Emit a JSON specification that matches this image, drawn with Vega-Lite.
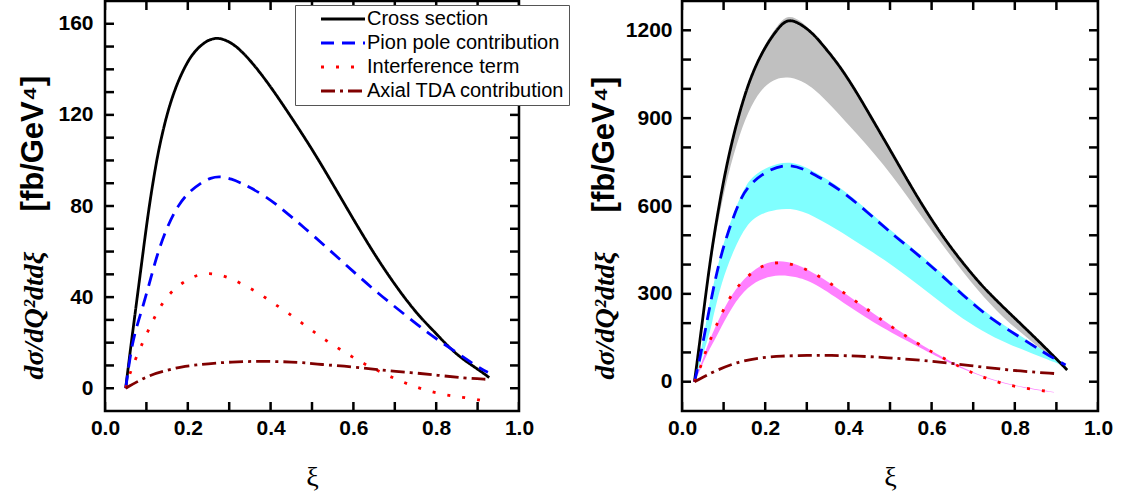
{
  "$schema": "https://vega.github.io/schema/vega-lite/v6.json",
  "background": "white",
  "padding": {"left": 15, "top": -1, "right": 5, "bottom": 5},
  "config": {"view": {"stroke": "black", "strokeWidth": 2.5, "fill": null}},
  "datasets": {
    "xt": [{"t":0},{"t":0.1},{"t":0.2},{"t":0.3},{"t":0.4},{"t":0.5},{"t":0.6},{"t":0.7},{"t":0.8},{"t":0.9},{"t":1}],
    "ytl": [{"t":0},{"t":10},{"t":20},{"t":30},{"t":40},{"t":50},{"t":60},{"t":70},{"t":80},{"t":90},{"t":100},{"t":110},{"t":120},{"t":130},{"t":140},{"t":150},{"t":160}],
    "ytr": [{"t":0},{"t":100},{"t":200},{"t":300},{"t":400},{"t":500},{"t":600},{"t":700},{"t":800},{"t":900},{"t":1000},{"t":1100},{"t":1200}],
    "left": [
      {"s":"Cross section","x":0.05,"y":0},{"s":"Cross section","x":0.06,"y":15},{"s":"Cross section","x":0.07,"y":29},{"s":"Cross section","x":0.08,"y":43},{"s":"Cross section","x":0.09,"y":57},{"s":"Cross section","x":0.105,"y":78},{"s":"Cross section","x":0.12,"y":95},{"s":"Cross section","x":0.13,"y":105},{"s":"Cross section","x":0.145,"y":117},{"s":"Cross section","x":0.16,"y":126.5},{"s":"Cross section","x":0.175,"y":134},{"s":"Cross section","x":0.19,"y":140},{"s":"Cross section","x":0.205,"y":145},{"s":"Cross section","x":0.22,"y":148.5},{"s":"Cross section","x":0.235,"y":151},{"s":"Cross section","x":0.25,"y":152.9},{"s":"Cross section","x":0.27,"y":153.9},{"s":"Cross section","x":0.29,"y":153},{"s":"Cross section","x":0.31,"y":151},{"s":"Cross section","x":0.33,"y":148},{"s":"Cross section","x":0.36,"y":142},{"s":"Cross section","x":0.4,"y":132.5},{"s":"Cross section","x":0.45,"y":119},{"s":"Cross section","x":0.5,"y":105},{"s":"Cross section","x":0.54,"y":92.8},{"s":"Cross section","x":0.578,"y":81},{"s":"Cross section","x":0.62,"y":68},{"s":"Cross section","x":0.659,"y":56.5},{"s":"Cross section","x":0.7,"y":45.5},{"s":"Cross section","x":0.739,"y":36},{"s":"Cross section","x":0.77,"y":29.5},{"s":"Cross section","x":0.8,"y":24},{"s":"Cross section","x":0.82,"y":20},{"s":"Cross section","x":0.85,"y":14.8},{"s":"Cross section","x":0.876,"y":11.3},{"s":"Cross section","x":0.905,"y":7.8},{"s":"Cross section","x":0.928,"y":4.7},
      {"s":"Pion pole contribution","x":0.05,"y":0},{"s":"Pion pole contribution","x":0.064,"y":18.5},{"s":"Pion pole contribution","x":0.078,"y":28},{"s":"Pion pole contribution","x":0.0926,"y":36.5},{"s":"Pion pole contribution","x":0.111,"y":48.5},{"s":"Pion pole contribution","x":0.125,"y":58},{"s":"Pion pole contribution","x":0.147,"y":69.7},{"s":"Pion pole contribution","x":0.177,"y":80.7},{"s":"Pion pole contribution","x":0.205,"y":86.5},{"s":"Pion pole contribution","x":0.232,"y":90.2},{"s":"Pion pole contribution","x":0.255,"y":92.4},{"s":"Pion pole contribution","x":0.278,"y":93.1},{"s":"Pion pole contribution","x":0.306,"y":91.9},{"s":"Pion pole contribution","x":0.33,"y":90},{"s":"Pion pole contribution","x":0.352,"y":88},{"s":"Pion pole contribution","x":0.385,"y":84.5},{"s":"Pion pole contribution","x":0.414,"y":80.7},{"s":"Pion pole contribution","x":0.445,"y":76},{"s":"Pion pole contribution","x":0.477,"y":71.2},{"s":"Pion pole contribution","x":0.538,"y":61.4},{"s":"Pion pole contribution","x":0.598,"y":51.5},{"s":"Pion pole contribution","x":0.659,"y":41.7},{"s":"Pion pole contribution","x":0.723,"y":32.5},{"s":"Pion pole contribution","x":0.783,"y":23.7},{"s":"Pion pole contribution","x":0.844,"y":16.4},{"s":"Pion pole contribution","x":0.908,"y":8.3},{"s":"Pion pole contribution","x":0.925,"y":7},
      {"s":"Interference term","x":0.05,"y":0},{"s":"Interference term","x":0.0604,"y":7.2},{"s":"Interference term","x":0.0926,"y":20.8},{"s":"Interference term","x":0.1087,"y":27},{"s":"Interference term","x":0.127,"y":33.9},{"s":"Interference term","x":0.151,"y":40.8},{"s":"Interference term","x":0.187,"y":46.6},{"s":"Interference term","x":0.224,"y":50},{"s":"Interference term","x":0.259,"y":50.6},{"s":"Interference term","x":0.296,"y":48.9},{"s":"Interference term","x":0.333,"y":45.6},{"s":"Interference term","x":0.37,"y":42},{"s":"Interference term","x":0.407,"y":37.3},{"s":"Interference term","x":0.444,"y":32.8},{"s":"Interference term","x":0.481,"y":27.9},{"s":"Interference term","x":0.518,"y":22.9},{"s":"Interference term","x":0.554,"y":18.6},{"s":"Interference term","x":0.593,"y":14.2},{"s":"Interference term","x":0.628,"y":10.5},{"s":"Interference term","x":0.665,"y":7.2},{"s":"Interference term","x":0.703,"y":3.9},{"s":"Interference term","x":0.739,"y":1.3},{"s":"Interference term","x":0.775,"y":-0.9},{"s":"Interference term","x":0.813,"y":-2.6},{"s":"Interference term","x":0.85,"y":-3.7},{"s":"Interference term","x":0.888,"y":-4.5},{"s":"Interference term","x":0.924,"y":-6},
      {"s":"Axial TDA contribution","x":0.05,"y":0},{"s":"Axial TDA contribution","x":0.105,"y":5.7},{"s":"Axial TDA contribution","x":0.145,"y":7.6},{"s":"Axial TDA contribution","x":0.185,"y":9.5},{"s":"Axial TDA contribution","x":0.221,"y":10.2},{"s":"Axial TDA contribution","x":0.262,"y":11},{"s":"Axial TDA contribution","x":0.306,"y":11.5},{"s":"Axial TDA contribution","x":0.354,"y":11.8},{"s":"Axial TDA contribution","x":0.403,"y":11.8},{"s":"Axial TDA contribution","x":0.451,"y":11.5},{"s":"Axial TDA contribution","x":0.491,"y":11.1},{"s":"Axial TDA contribution","x":0.514,"y":10.5},{"s":"Axial TDA contribution","x":0.602,"y":9.4},{"s":"Axial TDA contribution","x":0.667,"y":7.9},{"s":"Axial TDA contribution","x":0.739,"y":6.9},{"s":"Axial TDA contribution","x":0.804,"y":5.7},{"s":"Axial TDA contribution","x":0.868,"y":4.4},{"s":"Axial TDA contribution","x":0.924,"y":3.9}
    ],
    "right": [
      {"s":"Cross section","x":0.03,"y":0},{"s":"Cross section","x":0.0457,"y":168},{"s":"Cross section","x":0.0657,"y":396},{"s":"Cross section","x":0.0858,"y":578},{"s":"Cross section","x":0.1098,"y":761},{"s":"Cross section","x":0.138,"y":921},{"s":"Cross section","x":0.166,"y":1046},{"s":"Cross section","x":0.198,"y":1140},{"s":"Cross section","x":0.226,"y":1198},{"s":"Cross section","x":0.2526,"y":1242},{"s":"Cross section","x":0.286,"y":1222},{"s":"Cross section","x":0.318,"y":1185},{"s":"Cross section","x":0.341,"y":1145},{"s":"Cross section","x":0.37,"y":1095},{"s":"Cross section","x":0.4,"y":1033},{"s":"Cross section","x":0.429,"y":966},{"s":"Cross section","x":0.46,"y":890},{"s":"Cross section","x":0.497,"y":800},{"s":"Cross section","x":0.537,"y":700},{"s":"Cross section","x":0.585,"y":585},{"s":"Cross section","x":0.6415,"y":465},{"s":"Cross section","x":0.7056,"y":352},{"s":"Cross section","x":0.74,"y":300},{"s":"Cross section","x":0.78,"y":244},{"s":"Cross section","x":0.822,"y":187},{"s":"Cross section","x":0.87,"y":121},{"s":"Cross section","x":0.926,"y":40},
      {"s":"Pion pole contribution","x":0.03,"y":0},{"s":"Pion pole contribution","x":0.043,"y":76},{"s":"Pion pole contribution","x":0.0698,"y":282},{"s":"Pion pole contribution","x":0.0938,"y":441},{"s":"Pion pole contribution","x":0.13,"y":590},{"s":"Pion pole contribution","x":0.154,"y":664},{"s":"Pion pole contribution","x":0.2045,"y":723},{"s":"Pion pole contribution","x":0.2606,"y":748},{"s":"Pion pole contribution","x":0.3183,"y":709},{"s":"Pion pole contribution","x":0.385,"y":652},{"s":"Pion pole contribution","x":0.447,"y":577},{"s":"Pion pole contribution","x":0.495,"y":518},{"s":"Pion pole contribution","x":0.509,"y":500},{"s":"Pion pole contribution","x":0.569,"y":432},{"s":"Pion pole contribution","x":0.63,"y":356},{"s":"Pion pole contribution","x":0.69,"y":276},{"s":"Pion pole contribution","x":0.75,"y":207},{"s":"Pion pole contribution","x":0.814,"y":151},{"s":"Pion pole contribution","x":0.87,"y":99},{"s":"Pion pole contribution","x":0.922,"y":57},
      {"s":"Interference term","x":0.03,"y":0},{"s":"Interference term","x":0.0457,"y":53},{"s":"Interference term","x":0.0577,"y":110},{"s":"Interference term","x":0.0882,"y":211},{"s":"Interference term","x":0.106,"y":265},{"s":"Interference term","x":0.1275,"y":316},{"s":"Interference term","x":0.162,"y":367},{"s":"Interference term","x":0.1965,"y":400},{"s":"Interference term","x":0.234,"y":409},{"s":"Interference term","x":0.27,"y":400},{"s":"Interference term","x":0.3063,"y":379},{"s":"Interference term","x":0.345,"y":347},{"s":"Interference term","x":0.381,"y":312},{"s":"Interference term","x":0.416,"y":276},{"s":"Interference term","x":0.453,"y":240},{"s":"Interference term","x":0.488,"y":202},{"s":"Interference term","x":0.525,"y":168},{"s":"Interference term","x":0.564,"y":133},{"s":"Interference term","x":0.601,"y":101},{"s":"Interference term","x":0.638,"y":74},{"s":"Interference term","x":0.676,"y":44},{"s":"Interference term","x":0.711,"y":22},{"s":"Interference term","x":0.748,"y":4},{"s":"Interference term","x":0.784,"y":-12},{"s":"Interference term","x":0.822,"y":-21},{"s":"Interference term","x":0.858,"y":-29},{"s":"Interference term","x":0.894,"y":-36},
      {"s":"Axial TDA contribution","x":0.03,"y":0},{"s":"Axial TDA contribution","x":0.0858,"y":42},{"s":"Axial TDA contribution","x":0.142,"y":71},{"s":"Axial TDA contribution","x":0.19,"y":82},{"s":"Axial TDA contribution","x":0.238,"y":88},{"s":"Axial TDA contribution","x":0.302,"y":90},{"s":"Axial TDA contribution","x":0.358,"y":90},{"s":"Axial TDA contribution","x":0.423,"y":88},{"s":"Axial TDA contribution","x":0.493,"y":82},{"s":"Axial TDA contribution","x":0.573,"y":74},{"s":"Axial TDA contribution","x":0.653,"y":62},{"s":"Axial TDA contribution","x":0.734,"y":48},{"s":"Axial TDA contribution","x":0.814,"y":36},{"s":"Axial TDA contribution","x":0.894,"y":28},{"s":"Axial TDA contribution","x":0.906,"y":27}
    ],
    "bands": [
      {"b":"Cross section","x":0.03,"lo":0,"hi":0},{"b":"Cross section","x":0.0457,"lo":150,"hi":172},{"b":"Cross section","x":0.0657,"lo":372,"hi":400},{"b":"Cross section","x":0.0858,"lo":545,"hi":582},{"b":"Cross section","x":0.1098,"lo":705,"hi":767},{"b":"Cross section","x":0.138,"lo":845,"hi":928},{"b":"Cross section","x":0.166,"lo":945,"hi":1053},{"b":"Cross section","x":0.198,"lo":1012,"hi":1150},{"b":"Cross section","x":0.226,"lo":1035,"hi":1210},{"b":"Cross section","x":0.2526,"lo":1042,"hi":1256},{"b":"Cross section","x":0.286,"lo":1030,"hi":1234},{"b":"Cross section","x":0.3248,"lo":995,"hi":1178},{"b":"Cross section","x":0.3986,"lo":880,"hi":1036},{"b":"Cross section","x":0.485,"lo":745,"hi":830},{"b":"Cross section","x":0.565,"lo":585,"hi":634},{"b":"Cross section","x":0.6455,"lo":430,"hi":458},{"b":"Cross section","x":0.7097,"lo":312,"hi":346},{"b":"Cross section","x":0.774,"lo":215,"hi":253},{"b":"Cross section","x":0.822,"lo":160,"hi":187},{"b":"Cross section","x":0.87,"lo":100,"hi":121},{"b":"Cross section","x":0.926,"lo":38,"hi":40},
      {"b":"Pion pole contribution","x":0.03,"lo":0,"hi":0},{"b":"Pion pole contribution","x":0.043,"lo":60,"hi":82},{"b":"Pion pole contribution","x":0.063,"lo":150,"hi":245},{"b":"Pion pole contribution","x":0.0698,"lo":185,"hi":292},{"b":"Pion pole contribution","x":0.094,"lo":340,"hi":452},{"b":"Pion pole contribution","x":0.13,"lo":470,"hi":600},{"b":"Pion pole contribution","x":0.154,"lo":530,"hi":674},{"b":"Pion pole contribution","x":0.174,"lo":560,"hi":705},{"b":"Pion pole contribution","x":0.2045,"lo":582,"hi":734},{"b":"Pion pole contribution","x":0.2606,"lo":597,"hi":758},{"b":"Pion pole contribution","x":0.318,"lo":566,"hi":718},{"b":"Pion pole contribution","x":0.385,"lo":510,"hi":660},{"b":"Pion pole contribution","x":0.447,"lo":452,"hi":585},{"b":"Pion pole contribution","x":0.509,"lo":395,"hi":508},{"b":"Pion pole contribution","x":0.569,"lo":330,"hi":440},{"b":"Pion pole contribution","x":0.63,"lo":262,"hi":364},{"b":"Pion pole contribution","x":0.69,"lo":200,"hi":284},{"b":"Pion pole contribution","x":0.75,"lo":150,"hi":215},{"b":"Pion pole contribution","x":0.814,"lo":112,"hi":157},{"b":"Pion pole contribution","x":0.87,"lo":80,"hi":104},{"b":"Pion pole contribution","x":0.922,"lo":52,"hi":60},
      {"b":"Interference term","x":0.03,"lo":0,"hi":0},{"b":"Interference term","x":0.0457,"lo":45,"hi":58},{"b":"Interference term","x":0.0577,"lo":90,"hi":114},{"b":"Interference term","x":0.087,"lo":165,"hi":210},{"b":"Interference term","x":0.119,"lo":255,"hi":300},{"b":"Interference term","x":0.159,"lo":327,"hi":368},{"b":"Interference term","x":0.1965,"lo":355,"hi":405},{"b":"Interference term","x":0.234,"lo":365,"hi":414},{"b":"Interference term","x":0.27,"lo":360,"hi":405},{"b":"Interference term","x":0.318,"lo":339,"hi":372},{"b":"Interference term","x":0.398,"lo":259,"hi":296},{"b":"Interference term","x":0.479,"lo":185,"hi":213},{"b":"Interference term","x":0.573,"lo":115,"hi":128},{"b":"Interference term","x":0.621,"lo":80,"hi":88},{"b":"Interference term","x":0.676,"lo":42,"hi":46},{"b":"Interference term","x":0.748,"lo":3,"hi":5},{"b":"Interference term","x":0.822,"lo":-22,"hi":-20},{"b":"Interference term","x":0.894,"lo":-37,"hi":-35}
    ]
  },
  "hconcat": [
    {
      "width": 414,
      "height": 410,
      "layer": [
        {
          "data": {"name": "left"},
          "mark": {"type": "line", "strokeWidth": 2.8, "interpolate": "basis"},
          "encoding": {
            "x": {"field": "x", "type": "quantitative", "scale": {"domain": [0, 1], "nice": false, "zero": false},
              "axis": {"orient": "bottom", "values": [0,0.2,0.4,0.6,0.8,1], "format": ".1f", "domain": false, "ticks": false, "grid": false, "labelFont": "Liberation Sans", "labelFontWeight": "bold", "labelFontSize": 21, "labelColor": "black", "labelPadding": 6, "labelFlush": false, "labelOverlap": false, "labelBound": false, "title": "ξ", "titleFont": "Liberation Serif", "titleFontWeight": "normal", "titleFontSize": 28, "titleColor": "black", "titleY": 66, "titleBaseline": "middle"}},
            "y": {"field": "y", "type": "quantitative", "scale": {"domain": [-10, 170], "nice": false, "zero": false},
              "axis": {"orient": "left", "values": [0,40,80,120,160], "format": "d", "domain": false, "ticks": false, "grid": false, "labelFont": "Liberation Sans", "labelFontWeight": "bold", "labelFontSize": 21, "labelColor": "black", "labelPadding": 12, "labelFlush": false, "labelOverlap": false, "labelBound": false, "title": "[fb/GeV⁴]", "titleFont": "Liberation Sans", "titleFontWeight": "bold", "titleFontSize": 31, "titleColor": "black", "titleAngle": 270, "titleX": -72, "titleY": 142, "titleAlign": "center", "titleBaseline": "middle"}},
            "color": {"field": "s", "type": "nominal",
              "scale": {"domain": ["Cross section", "Pion pole contribution", "Interference term", "Axial TDA contribution"], "range": ["#000000", "#0000ff", "#ff0000", "#800000"]},
              "legend": {"orient": "none", "legendX": 190, "legendY": 4, "title": null, "symbolType": "M -4 0 L 4 0", "symbolSize": 121, "symbolStrokeWidth": 2.8, "symbolOffset": 34, "labelOffset": 14, "labelExpr": "datum.label + '      '", "labelFont": "Liberation Sans", "labelFontSize": 20, "labelColor": "black", "strokeColor": "#555555", "fillColor": "white", "padding": 4, "rowPadding": 4, "labelLimit": 400}},
            "strokeDash": {"field": "s", "type": "nominal",
              "scale": {"domain": ["Cross section", "Pion pole contribution", "Interference term", "Axial TDA contribution"], "range": [[1, 0], [13, 8], [3, 12], [14, 5, 3, 5]]},
              "legend": {"orient": "none", "legendX": 190, "legendY": 4, "title": null, "symbolType": "M -4 0 L 4 0", "symbolSize": 121, "symbolStrokeWidth": 2.8, "symbolOffset": 34, "labelOffset": 14, "labelExpr": "datum.label + '      '", "labelFont": "Liberation Sans", "labelFontSize": 20, "labelColor": "black", "strokeColor": "#555555", "fillColor": "white", "padding": 4, "rowPadding": 4, "labelLimit": 400}}
          }
        },
        {
          "data": {"name": "xt"},
          "mark": {"type": "tick", "orient": "vertical", "size": 18, "thickness": 2.5, "color": "black", "opacity": 1, "clip": true},
          "encoding": {
            "x": {"field": "t", "type": "quantitative", "scale": {"domain": [0, 1], "nice": false, "zero": false}, "axis": null},
            "y": {"datum": 170, "type": "quantitative", "scale": {"domain": [-10, 170], "nice": false, "zero": false}, "axis": null}
          }
        },
        {
          "data": {"name": "xt"},
          "mark": {"type": "tick", "orient": "vertical", "size": 18, "thickness": 2.5, "color": "black", "opacity": 1, "clip": true},
          "encoding": {
            "x": {"field": "t", "type": "quantitative", "scale": {"domain": [0, 1], "nice": false, "zero": false}, "axis": null},
            "y": {"datum": -10, "type": "quantitative", "scale": {"domain": [-10, 170], "nice": false, "zero": false}, "axis": null}
          }
        },
        {
          "data": {"name": "ytl"},
          "mark": {"type": "tick", "orient": "horizontal", "size": 18, "thickness": 2.5, "color": "black", "opacity": 1, "clip": true},
          "encoding": {
            "y": {"field": "t", "type": "quantitative", "scale": {"domain": [-10, 170], "nice": false, "zero": false}, "axis": null},
            "x": {"datum": 0, "type": "quantitative", "scale": {"domain": [0, 1], "nice": false, "zero": false}, "axis": null}
          }
        },
        {
          "data": {"name": "ytl"},
          "mark": {"type": "tick", "orient": "horizontal", "size": 18, "thickness": 2.5, "color": "black", "opacity": 1, "clip": true},
          "encoding": {
            "y": {"field": "t", "type": "quantitative", "scale": {"domain": [-10, 170], "nice": false, "zero": false}, "axis": null},
            "x": {"datum": 1, "type": "quantitative", "scale": {"domain": [0, 1], "nice": false, "zero": false}, "axis": null}
          }
        },
        {
          "data": {"name": "left"},
          "mark": {"type": "point", "opacity": 0},
          "encoding": {
            "x": {"field": "x", "type": "quantitative", "scale": {"domain": [0, 1], "nice": false, "zero": false}, "axis": null},
            "y": {"field": "y", "type": "quantitative", "scale": {"domain": [-10, 170], "nice": false, "zero": false},
              "axis": {"orient": "left", "labels": false, "ticks": false, "domain": false, "grid": false, "title": "dσ/dQ²dtdξ", "titleFont": "Liberation Serif", "titleFontStyle": "italic", "titleFontWeight": "bold", "titleFontSize": 28, "titleColor": "black", "titleAngle": 270, "titleX": -71, "titleY": 314, "titleAlign": "center", "titleBaseline": "middle"}}
          }
        }
      ],
      "resolve": {"axis": {"x": "independent", "y": "independent"}}
    },
    {
      "width": 416,
      "height": 410,
      "layer": [
        {
          "data": {"name": "bands"},
          "mark": {"type": "area", "interpolate": "basis"},
          "encoding": {
            "x": {"field": "x", "type": "quantitative", "scale": {"domain": [0, 1], "nice": false, "zero": false}, "axis": null},
            "y": {"field": "lo", "type": "quantitative", "scale": {"domain": [-100, 1300], "nice": false, "zero": false}, "axis": null},
            "y2": {"field": "hi"},
            "fill": {"field": "b", "type": "nominal", "scale": {"domain": ["Cross section", "Pion pole contribution", "Interference term"], "range": ["#c0c0c0", "#80ffff", "#ff80ff"]}, "legend": null}
          }
        },
        {
          "data": {"name": "right"},
          "mark": {"type": "line", "strokeWidth": 2.8, "interpolate": "basis"},
          "encoding": {
            "x": {"field": "x", "type": "quantitative", "scale": {"domain": [0, 1], "nice": false, "zero": false},
              "axis": {"orient": "bottom", "values": [0,0.2,0.4,0.6,0.8,1], "format": ".1f", "domain": false, "ticks": false, "grid": false, "labelFont": "Liberation Sans", "labelFontWeight": "bold", "labelFontSize": 21, "labelColor": "black", "labelPadding": 6, "labelFlush": false, "labelOverlap": false, "labelBound": false, "title": "ξ", "titleFont": "Liberation Serif", "titleFontWeight": "normal", "titleFontSize": 28, "titleColor": "black", "titleY": 66, "titleBaseline": "middle"}},
            "y": {"field": "y", "type": "quantitative", "scale": {"domain": [-100, 1300], "nice": false, "zero": false},
              "axis": {"orient": "left", "values": [0,300,600,900,1200], "format": "d", "domain": false, "ticks": false, "grid": false, "labelFont": "Liberation Sans", "labelFontWeight": "bold", "labelFontSize": 21, "labelColor": "black", "labelPadding": 10, "labelFlush": false, "labelOverlap": false, "labelBound": false, "title": "[fb/GeV⁴]", "titleFont": "Liberation Sans", "titleFontWeight": "bold", "titleFontSize": 31, "titleColor": "black", "titleAngle": 270, "titleX": -78, "titleY": 143, "titleAlign": "center", "titleBaseline": "middle"}},
            "color": {"field": "s", "type": "nominal",
              "scale": {"domain": ["Cross section", "Pion pole contribution", "Interference term", "Axial TDA contribution"], "range": ["#000000", "#0000ff", "#ff0000", "#800000"]}, "legend": null},
            "strokeDash": {"field": "s", "type": "nominal",
              "scale": {"domain": ["Cross section", "Pion pole contribution", "Interference term", "Axial TDA contribution"], "range": [[1, 0], [13, 8], [3, 12], [14, 5, 3, 5]]}, "legend": null}
          }
        },
        {
          "data": {"name": "xt"},
          "mark": {"type": "tick", "orient": "vertical", "size": 18, "thickness": 2.5, "color": "black", "opacity": 1, "clip": true},
          "encoding": {
            "x": {"field": "t", "type": "quantitative", "scale": {"domain": [0, 1], "nice": false, "zero": false}, "axis": null},
            "y": {"datum": 1300, "type": "quantitative", "scale": {"domain": [-100, 1300], "nice": false, "zero": false}, "axis": null}
          }
        },
        {
          "data": {"name": "xt"},
          "mark": {"type": "tick", "orient": "vertical", "size": 18, "thickness": 2.5, "color": "black", "opacity": 1, "clip": true},
          "encoding": {
            "x": {"field": "t", "type": "quantitative", "scale": {"domain": [0, 1], "nice": false, "zero": false}, "axis": null},
            "y": {"datum": -100, "type": "quantitative", "scale": {"domain": [-100, 1300], "nice": false, "zero": false}, "axis": null}
          }
        },
        {
          "data": {"name": "ytr"},
          "mark": {"type": "tick", "orient": "horizontal", "size": 18, "thickness": 2.5, "color": "black", "opacity": 1, "clip": true},
          "encoding": {
            "y": {"field": "t", "type": "quantitative", "scale": {"domain": [-100, 1300], "nice": false, "zero": false}, "axis": null},
            "x": {"datum": 0, "type": "quantitative", "scale": {"domain": [0, 1], "nice": false, "zero": false}, "axis": null}
          }
        },
        {
          "data": {"name": "ytr"},
          "mark": {"type": "tick", "orient": "horizontal", "size": 18, "thickness": 2.5, "color": "black", "opacity": 1, "clip": true},
          "encoding": {
            "y": {"field": "t", "type": "quantitative", "scale": {"domain": [-100, 1300], "nice": false, "zero": false}, "axis": null},
            "x": {"datum": 1, "type": "quantitative", "scale": {"domain": [0, 1], "nice": false, "zero": false}, "axis": null}
          }
        },
        {
          "data": {"name": "right"},
          "mark": {"type": "point", "opacity": 0},
          "encoding": {
            "x": {"field": "x", "type": "quantitative", "scale": {"domain": [0, 1], "nice": false, "zero": false}, "axis": null},
            "y": {"field": "y", "type": "quantitative", "scale": {"domain": [-100, 1300], "nice": false, "zero": false},
              "axis": {"orient": "left", "labels": false, "ticks": false, "domain": false, "grid": false, "title": "dσ/dQ²dtdξ", "titleFont": "Liberation Serif", "titleFontStyle": "italic", "titleFontWeight": "bold", "titleFontSize": 28, "titleColor": "black", "titleAngle": 270, "titleX": -77, "titleY": 314, "titleAlign": "center", "titleBaseline": "middle"}}
          }
        }
      ],
      "resolve": {"axis": {"x": "independent", "y": "independent"}}
    }
  ],
  "spacing": 163,
  "bounds": "flush"
}
